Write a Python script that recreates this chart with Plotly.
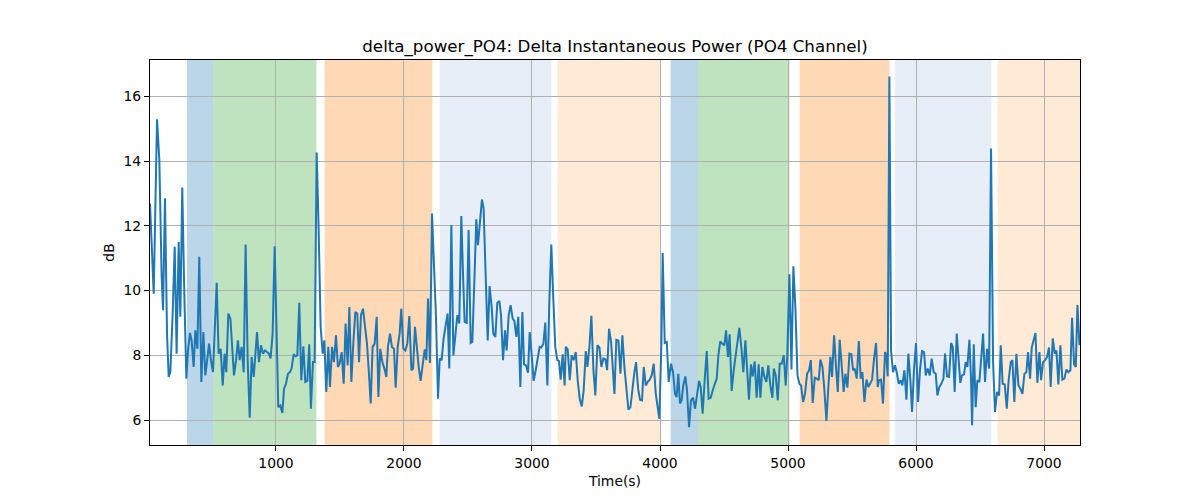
import plotly.graph_objects as go

# ---- data ----
time_s = [
    16, 45, 71, 89, 107, 118, 133, 149, 162, 175, 193, 209, 224, 240, 253, 268, 284, 300, 313, 328,
    341, 357, 370, 386, 401, 417, 433, 448, 461, 477, 492, 508, 524, 537, 552, 568, 584, 599, 612, 628,
    644, 659, 672, 688, 703, 716, 732, 748, 763, 779, 795, 810, 826,
    836, 852, 867, 883, 899, 914, 930, 945, 958, 974, 990, 1005, 1018, 1034, 1050, 1063, 1078, 1094, 1109, 1122,
    1138, 1154, 1167, 1182, 1198, 1214, 1229, 1245, 1260, 1273, 1289, 1302, 1318, 1333, 1349, 1365, 1378, 1393,
    1409, 1422, 1438, 1453, 1469, 1484, 1497, 1513, 1529, 1544, 1560, 1573, 1589, 1604, 1620, 1635,
    1649, 1664, 1680, 1696, 1711, 1724, 1740, 1755, 1771, 1787, 1800, 1815, 1831, 1847, 1862, 1875, 1891, 1906,
    1922, 1935, 1951, 1966, 1979, 1995, 2011, 2026, 2042, 2058, 2071, 2086, 2102, 2115, 2130, 2146, 2162, 2175,
    2188, 2203, 2219, 2235, 2250, 2266, 2279, 2294, 2310, 2326, 2341, 2354, 2370, 2386, 2401, 2417, 2432, 2448,
    2461, 2474, 2490, 2505, 2521, 2534, 2550, 2565, 2578, 2594, 2609, 2622, 2638, 2654, 2669, 2685, 2698, 2714,
    2729, 2745, 2758, 2774, 2789, 2802, 2818, 2833, 2849, 2862, 2878, 2893, 2909, 2925, 2938, 2953, 2969, 2982,
    2997, 3013, 3029, 3044, 3060, 3073, 3089, 3104, 3120, 3135, 3151, 3167, 3182, 3198, 3211, 3224, 3240, 3255,
    3264, 3279, 3295, 3310, 3326, 3342, 3357, 3373, 3389, 3404, 3420, 3433, 3449, 3464, 3480, 3495, 3511, 3527,
    3542, 3558, 3574, 3587, 3602, 3618, 3631, 3644, 3659, 3675, 3691, 3706, 3722, 3738, 3753, 3769, 3785, 3800,
    3813, 3829, 3844, 3860, 3873, 3889, 3904, 3920, 3935, 3951, 3967, 3982, 3995, 4011, 4021, 4037, 4053, 4068,
    4086, 4102, 4117, 4130, 4143, 4156, 4169, 4182, 4198, 4211, 4227, 4242, 4258, 4274, 4289, 4305, 4318, 4333,
    4349, 4365, 4380, 4396, 4412, 4427, 4443, 4456, 4471, 4487, 4503, 4516, 4531, 4544, 4560, 4576, 4591, 4607,
    4620, 4635, 4651, 4667, 4680, 4695, 4711, 4724, 4740, 4755, 4771, 4784, 4800, 4815, 4831, 4846, 4862, 4878,
    4889, 4904, 4920, 4935, 4951, 4967, 4982, 4995, 5011, 5027, 5042, 5058, 5074, 5089, 5102, 5118, 5133, 5149,
    5165, 5178, 5193, 5209, 5225, 5240, 5253, 5269, 5284, 5300, 5316, 5331, 5344, 5360, 5376, 5389, 5404, 5420,
    5435, 5448, 5464, 5480, 5495, 5508, 5521, 5537, 5553, 5568, 5581, 5597, 5613, 5628, 5644, 5657, 5672, 5688, 5701,
    5711, 5727, 5742, 5758, 5768, 5779, 5792, 5805, 5820, 5836, 5849, 5865, 5880, 5893, 5909, 5925, 5940, 5956,
    5969, 5984, 6000, 6016, 6031, 6047, 6063, 6076, 6091, 6107, 6122, 6138, 6154, 6167, 6182, 6198, 6214, 6227,
    6242, 6258, 6274, 6287, 6302, 6318, 6331, 6346, 6359, 6375, 6388, 6401, 6417, 6430, 6438, 6451, 6466, 6479, 6495,
    6524, 6539, 6555, 6571, 6586, 6602, 6617, 6633, 6649, 6662, 6677, 6693, 6709, 6724, 6740, 6753, 6768, 6784,
    6800, 6815, 6831, 6847, 6862, 6875, 6891, 6904, 6917, 6933, 6948, 6964, 6977, 6992, 7008, 7024, 7039, 7052,
    7068, 7084, 7097, 7112, 7128, 7143, 7159, 7175, 7190, 7206, 7219, 7235, 7248, 7261, 7277,
]

power_db = [
    12.69, 9.9, 15.29, 14.03, 10.42, 9.39, 12.85, 8.67, 7.33, 7.48, 9.29, 11.35, 8.05, 11.5, 9.19, 13.18, 9.9, 7.28, 8.15, 8.69,
    8.46, 7.64, 8.77, 8.2, 11.04, 7.18, 8.72, 7.38, 7.79, 8.36, 7.85, 7.48, 8.98, 10.24, 8.05, 8.2, 7.07, 8.05, 7.48, 9.29,
    9.13, 8.15, 7.38, 7.85, 8.46, 7.85, 8.26, 7.48, 11.42, 7.85, 6.07, 7.95, 7.33,
    7.85, 8.72, 7.79, 8.31, 8.05, 8.15, 8.1, 8.05, 7.9, 8.67, 11.37, 8.36, 6.4, 6.45, 6.22, 6.97, 7.12, 7.43, 7.48, 7.59,
    8.03, 7.97, 8.0, 9.62, 7.23, 8.28, 7.18, 7.21, 8.34, 6.35, 7.79, 7.79, 14.26, 11.97, 8.88, 8.05, 8.46, 6.87,
    8.26, 7.02, 8.26, 7.79, 8.62, 7.64, 7.74, 8.1, 7.12, 8.98, 7.69, 9.49, 7.18, 8.36, 9.34, 9.29,
    7.79, 9.24, 9.44, 8.88, 8.36, 7.59, 6.51, 8.26, 8.36, 9.19, 6.71, 8.2, 7.79, 7.59, 7.33, 8.26, 8.67, 8.26,
    8.2, 7.0, 8.26, 8.67, 9.44, 8.2, 8.15, 8.36, 9.21, 7.54, 7.59, 8.88, 8.05, 7.64, 7.21, 7.69, 8.18, 7.85,
    9.75, 7.76, 12.38, 10.73, 9.19, 6.66, 7.9, 7.85, 8.52, 8.93, 9.29, 7.59, 12.02, 8.0, 8.52, 9.24, 8.98, 12.3,
    10.53, 9.03, 9.0, 11.87, 8.38, 8.41, 10.32, 12.2, 11.4, 12.28, 12.81, 12.54, 10.32, 8.46, 10.14, 9.49, 8.67, 8.57,
    9.62, 9.68, 9.24, 7.85, 8.77, 8.15, 9.24, 9.55, 9.13, 9.06, 8.57, 9.19, 7.02, 9.34, 7.72, 7.69, 7.46, 8.72,
    8.05, 7.21, 7.54, 7.9, 8.26, 8.24, 8.36, 9.01, 7.07, 9.6, 11.42, 9.7, 8.26, 7.85, 7.82, 7.25, 8.03, 7.07,
    8.26, 8.18, 7.23, 8.0, 7.85, 8.1, 7.23, 6.66, 6.42, 6.92, 8.13, 7.64, 8.28, 9.22, 7.54, 6.76, 8.31, 8.24,
    7.64, 7.9, 7.87, 7.54, 8.82, 8.41, 7.48, 6.81, 8.48, 8.46, 7.43, 8.62, 7.64, 6.97, 6.32, 6.4, 7.07, 7.48,
    7.79, 6.97, 6.63, 6.61, 7.64, 7.07, 7.18, 7.25, 7.38, 7.74, 6.81, 6.4, 6.04, 8.36, 11.16, 8.38, 8.41, 7.18,
    7.74, 7.48, 6.81, 6.71, 7.43, 6.51, 6.61, 7.07, 7.35, 6.92, 5.78, 6.61, 6.69, 6.35, 6.76, 7.21, 7.02, 6.2,
    7.23, 8.13, 6.66, 6.69, 6.92, 7.07, 7.28, 8.0, 8.43, 8.36, 8.31, 8.77, 7.95, 8.65, 6.9, 7.54, 8.0, 8.36,
    8.85, 8.26, 7.48, 8.46, 7.69, 6.63, 7.72, 7.35, 7.81, 6.69, 7.72, 6.69, 7.64, 7.35, 7.18, 7.69, 7.07, 6.69,
    7.59, 7.38, 6.61, 7.74, 7.74, 8.0, 7.07, 8.05, 10.5, 7.56, 10.75, 9.44, 7.38, 7.12, 7.07, 6.56, 6.81, 7.43,
    7.54, 7.85, 6.53, 7.31, 7.28, 7.23, 7.87, 7.64, 6.94, 5.97, 7.07, 7.95, 7.33, 8.62, 7.59, 6.87, 8.48, 7.66,
    6.87, 7.43, 7.0, 8.05, 8.03, 7.54, 7.59, 7.28, 8.44, 7.28, 7.48, 6.56, 7.25, 7.02, 7.18, 7.25, 7.9, 8.38, 7.02,
    7.23, 7.25, 6.51, 8.1, 8.0, 7.35, 16.61, 8.15, 7.48, 7.69, 7.48, 7.12, 7.23, 7.07, 7.54, 6.63, 8.05, 7.23,
    6.25, 7.54, 8.38, 6.56, 7.54, 8.13, 8.1, 7.38, 7.59, 7.38, 7.9, 7.48, 7.43, 6.76, 7.02, 7.12, 7.28, 8.05,
    7.35, 7.33, 8.38, 8.26, 6.87, 8.67, 7.9, 7.15, 7.38, 7.41, 7.79, 7.64, 8.48, 7.23, 5.84, 8.34, 6.4, 7.23, 7.18,
    8.67, 7.18, 8.2, 7.59, 14.39, 7.79, 6.25, 6.87, 6.76, 8.31, 7.12, 7.1, 6.35, 7.25, 7.79, 7.85, 6.56, 8.05,
    7.07, 6.97, 6.81, 7.43, 7.48, 8.1, 7.28, 8.24, 8.41, 8.69, 7.15, 8.1, 7.23, 7.79, 7.85, 7.95, 8.24, 7.02,
    8.52, 8.05, 8.15, 7.1, 8.31, 7.25, 7.28, 7.56, 7.48, 7.54, 9.16, 7.72, 7.64, 9.55, 8.31,
]

# shaded segments (start, end in seconds) and their colours
span_start = [305, 511, 1380, 2279, 3201, 4083, 4297, 5091, 5834, 6638]
span_end = [511, 1316, 2222, 3151, 4003, 4297, 5011, 5792, 6589, 7300]
span_color = ["#1f77b4", "#2ca02c", "#ff7f0e", "#aec7e8", "#ffbb78",
              "#1f77b4", "#2ca02c", "#ff7f0e", "#aec7e8", "#ffbb78"]

x_ticks = [1000, 2000, 3000, 4000, 5000, 6000, 7000]
y_ticks = [6, 8, 10, 12, 14, 16]

title_text = "delta_power_PO4: Delta Instantaneous Power (PO4 Channel)"
x_label = "Time(s)"
y_label = "dB"

FONT = "DejaVu Sans, Liberation Sans, sans-serif"

fig = go.Figure()

fig.add_trace(go.Scatter(
    x=time_s, y=power_db, mode="lines",
    line=dict(color="#1f77b4", width=2),
    showlegend=False, hoverinfo="x+y",
))

shapes = []
for s, e, c in zip(span_start, span_end, span_color):
    shapes.append(dict(
        type="rect", xref="x", yref="paper", x0=s, x1=e, y0=0, y1=1,
        fillcolor=c, opacity=0.3, line=dict(width=0), layer="below",
    ))

axis_common = dict(
    showgrid=True, gridcolor="#b0b0b0", gridwidth=1,
    showline=True, linecolor="black", linewidth=1, mirror=True,
    ticks="outside", ticklen=5, tickwidth=1, tickcolor="black",
    tickfont=dict(family=FONT, size=13.9, color="black"),
    zeroline=False,
)

fig.update_layout(
    width=1200, height=500,
    margin=dict(l=150, r=120, t=60, b=55),
    paper_bgcolor="white", plot_bgcolor="white",
    shapes=shapes,
    title=dict(
        text=title_text, x=0.5, xanchor="center", xref="paper",
        y=1 - 46 / 500, yanchor="middle", yref="container",
        font=dict(family=FONT, size=16.7, color="black"),
    ),
    xaxis=dict(
        range=[16, 7281], tickvals=x_ticks, ticktext=[str(v) for v in x_ticks],
        title=dict(text=x_label, font=dict(family=FONT, size=13.9, color="black"), standoff=6),
        **axis_common,
    ),
    yaxis=dict(
        range=[5.23, 17.12], tickvals=y_ticks, ticktext=[str(v) for v in y_ticks],
        title=dict(text=y_label, font=dict(family=FONT, size=13.9, color="black"), standoff=5),
        **axis_common,
    ),
)

fig.write_html(
    "out.html",
    config={"displayModeBar": False},
    post_script="document.body.style.margin='0';document.body.style.padding='0';",
)
